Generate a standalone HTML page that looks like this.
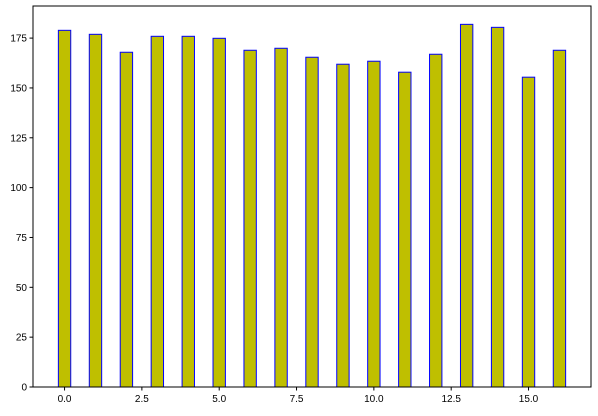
<!DOCTYPE html>
<html><head><meta charset="utf-8"><style>
body{margin:0;background:#fff;font-family:"Liberation Sans","DejaVu Sans",sans-serif}
svg text{font-size:10px;fill:#000}
</style></head><body>
<svg id="c" width="598" height="411"></svg>
<script>
const categories=[0,1,2,3,4,5,6,7,8,9,10,11,12,13,14,15,16];
const values=[178.9,176.9,167.9,175.9,175.9,174.9,168.9,169.9,165.4,161.9,163.4,157.9,166.9,181.9,180.4,155.4,168.9];
const xTicks=[0,2.5,5,7.5,10,12.5,15];
const xTickLabels=["0.0","2.5","5.0","7.5","10.0","12.5","15.0"];
const yTicks=[0,25,50,75,100,125,150,175];
const NS="http://www.w3.org/2000/svg";
const svg=document.getElementById('c');
const L=33,R=591,T=6,B=387;
const xMin=-1.02,xMax=17.02,yMin=0,yMax=191.1;
const xs=v=>L+(v-xMin)/(xMax-xMin)*(R-L);
const ys=v=>B-(v-yMin)/(yMax-yMin)*(B-T);
function mk(tag,attrs){const e=document.createElementNS(NS,tag);for(const k in attrs)e.setAttribute(k,attrs[k]);svg.appendChild(e);return e;}
const bw=0.4;
categories.forEach((c,i)=>{
  const x0=xs(c-bw/2),x1=xs(c+bw/2),y=ys(values[i]);
  const r=mk('rect',{x:x0,y:y,width:x1-x0,height:B-y,fill:'#bfbf00',stroke:'#0000ff','stroke-width':1});
  
  
});
const ax=mk('rect',{x:L,y:T,width:R-L,height:B-T,fill:'none',stroke:'#000','stroke-width':1});


xTicks.forEach((t,i)=>{
  const x=xs(t);
  mk('line',{x1:x,x2:x,y1:B,y2:B+3.5,stroke:'#000'});
  const tx=mk('text',{x:x,y:B+15,'text-anchor':'middle'});tx.textContent=xTickLabels[i];
  
  
});
yTicks.forEach(t=>{
  const y=ys(t);
  mk('line',{x1:L-3.5,x2:L,y1:y,y2:y,stroke:'#000'});
  const tx=mk('text',{x:L-6,y:y+3.5,'text-anchor':'end'});tx.textContent=t;
  
  
});
</script>
</body></html>
